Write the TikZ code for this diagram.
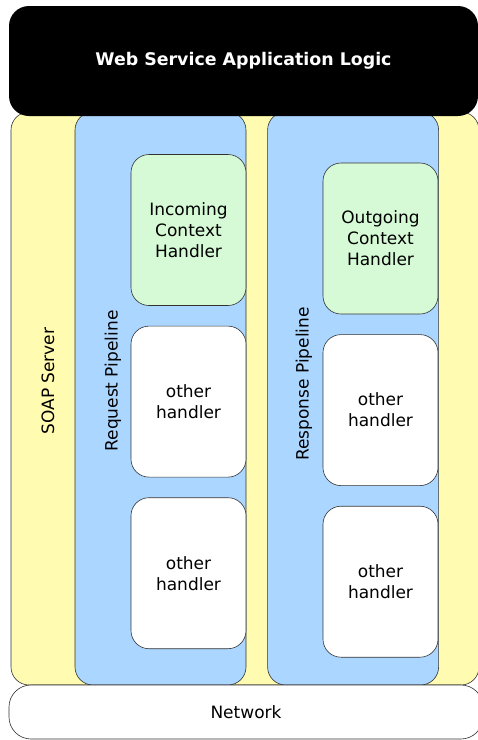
\documentclass[tikz,border=0pt]{standalone}
\usepackage{fontspec}
\setmainfont{DejaVu Sans}
\usetikzlibrary{positioning}
\usepackage{xcolor}
\definecolor{soapyellow}{RGB}{255,251,176}
\definecolor{pipeblue}{RGB}{170,214,255}
\definecolor{ctxgreen}{RGB}{214,250,214}

\tikzset{
  box/.style={draw=black!80, line width=0.6pt, rounded corners=18pt, inner sep=0pt, align=center},
  layer/.style={box, fill=soapyellow},
  pipe/.style={box, fill=pipeblue, minimum width=171pt, minimum height=573pt},
  handler/.style={box, fill=white, minimum width=115pt, minimum height=151pt},
  ctx/.style={handler, fill=ctxgreen},
}

\begin{document}
\begin{tikzpicture}[x=1pt, y=-1pt, font=\fontsize{17}{21}\selectfont]
  \useasboundingbox (0,0) rectangle (478,740);
  % Server and pipelines
  \node[layer, minimum width=468pt, minimum height=573pt] (soap) at (245,398.5) {};
  \node[pipe] (reqpipe) at (160.5,398.5) {};
  \node[pipe] (resppipe) [right=21pt of reqpipe] {};

  % Request handlers
  \node[ctx] (inctx) at (188.5,230) {Incoming\\Context\\Handler};
  \node[handler] (reqother) [below=20pt of inctx] {other\\handler};
  \node[handler] (reqlast) [below=20pt of reqother] {other\\handler};

  % Response handlers
  \node[ctx] (outctx) at (380.5,238.5) {Outgoing\\Context\\Handler};
  \node[handler] (respother) [below=20pt of outctx] {other\\handler};
  \node[handler] (resplast) [below=20pt of respother] {other\\handler};

  % Vertical labels
  \node[rotate=90] (soaplabel) at (48,381) {SOAP Server};
  \node[rotate=90] (reqlabel) at (113,381) {Request Pipeline};
  \node[rotate=90] (resplabel) at (304,384) {Response Pipeline};

  % Top and bottom
  \node[fill=black, rounded corners=20pt, minimum width=469pt, minimum height=110pt,
        text=white, font=\fontsize{17.4}{21}\bfseries] (app) at (243.5,61) {Web Service Application Logic};
  \node[box, fill=white, rounded corners=22pt, minimum width=474pt, minimum height=54pt] (net) at (246,712) {Network};
\end{tikzpicture}
\end{document}
